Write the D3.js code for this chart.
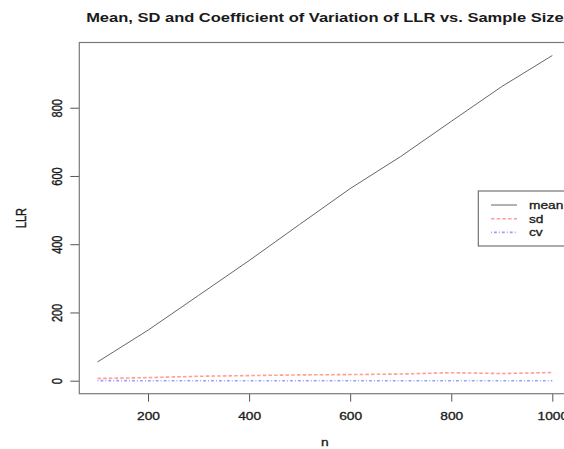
<!DOCTYPE html>
<html>
<head>
<meta charset="utf-8">
<script src="https://cdn.jsdelivr.net/npm/d3@7"></script>
<style>
  body { margin: 0; background: #fff; }
  text { font-family: "Liberation Sans", Arial, sans-serif; fill: #1a1a1a; }
  .thin { stroke: #1a1a1a; stroke-width: 0.3; }
</style>
</head>
<body>
<div class="chart"></div>
<script>
// Data
var sampleSize = [100, 200, 300, 400, 500, 600, 700, 800, 900, 1000];
var meanLLR = [55, 148, 250, 352, 458, 563, 657, 760, 862, 953];
var sdLLR = [6.5, 9, 13, 15, 17, 18, 19.5, 23.5, 21, 24];
var cvLLR = [0.118, 0.061, 0.052, 0.043, 0.037, 0.032, 0.030, 0.031, 0.024, 0.025];
var xTicks = [200, 400, 600, 800, 1000];
var yTicks = [0, 200, 400, 600, 800];
var legendNames = ["mean", "sd", "cv"];

var svgWidth = 564;
var svgHeight = 449;

// the reference image is stretched sideways, so text is too
var stretchX = 1.25;

var plot = { left: 79.3, right: 570.5, top: 42.5, bottom: 393.7 };

var svg = d3.select(".chart")
  .append("svg")
  .attr("width", svgWidth)
  .attr("height", svgHeight);

// R style 4% padding on both axes
var xExt = d3.extent(sampleSize);
var xPad = (xExt[1] - xExt[0]) * 0.04;
var xScale = d3.scaleLinear()
  .domain([xExt[0] - xPad, xExt[1] + xPad])
  .range([plot.left, plot.right]);

var yExt = d3.extent(meanLLR.concat(sdLLR, cvLLR));
var yPad = (yExt[1] - yExt[0]) * 0.04;
var yScale = d3.scaleLinear()
  .domain([yExt[0] - yPad, yExt[1] + yPad])
  .range([plot.bottom, plot.top]);

function placeText(sel, x, y, rot) {
  sel.attr("x", 0).attr("y", 0).attr("dy", null)
    .attr("transform", "translate(" + x + "," + y + ") scale(" + stretchX + ",1)" + (rot ? " rotate(" + rot + ")" : ""));
}

// axes
var bottomAxis = d3.axisBottom(xScale).tickValues(xTicks).tickSize(8).tickFormat(d3.format("d"));
var xAxisG = svg.append("g")
  .attr("transform", "translate(0," + plot.bottom + ")")
  .call(bottomAxis);
xAxisG.select(".domain").remove();
xAxisG.selectAll("line").attr("stroke", "#555");
xAxisG.selectAll("text")
  .attr("class", "thin")
  .attr("font-size", 11)
  .attr("font-family", null)
  .attr("fill", "#1a1a1a")
  .each(function() { placeText(d3.select(this), 0, 26.3); });

var leftAxis = d3.axisLeft(yScale).tickValues(yTicks).tickSize(9).tickFormat(d3.format("d"));
var yAxisG = svg.append("g")
  .attr("transform", "translate(" + plot.left + ",0)")
  .call(leftAxis);
yAxisG.select(".domain").remove();
yAxisG.selectAll("line").attr("stroke", "#555");
yAxisG.selectAll("text")
  .attr("class", "thin")
  .attr("font-size", 11)
  .attr("font-family", null)
  .attr("fill", "#1a1a1a")
  .attr("text-anchor", "middle")
  .each(function() { placeText(d3.select(this), -17.8, 0, -90); });

// plot box
svg.append("rect")
  .attr("x", plot.left)
  .attr("y", plot.top)
  .attr("width", plot.right - plot.left)
  .attr("height", plot.bottom - plot.top)
  .attr("fill", "none")
  .attr("stroke", "#7a7a7a")
  .attr("stroke-width", 1.2);

// series
var styles = [
  { values: meanLLR, color: "#666", width: 1, dash: null },
  { values: sdLLR, color: "#ff9c9c", width: 1.6, dash: "3.5,2.2" },
  { values: cvLLR, color: "#9c9cff", width: 1.6, dash: "0.9,2.1,2.8,2.1" }
];

styles.forEach(function(s) {
  var line = d3.line()
    .x(function(d, i) { return xScale(sampleSize[i]); })
    .y(function(d) { return yScale(d); });
  svg.append("path")
    .datum(s.values)
    .attr("d", line)
    .attr("fill", "none")
    .attr("stroke", s.color)
    .attr("stroke-width", s.width)
    .attr("stroke-dasharray", s.dash);
});

// title and axis labels
svg.append("text")
  .attr("text-anchor", "middle")
  .attr("font-size", 13.2)
  .attr("font-weight", "bold")
  .text("Mean, SD and Coefficient of Variation of LLR vs. Sample Size")
  .call(placeText, (plot.left + plot.right) / 2, 22);

svg.append("text")
  .attr("class", "thin")
  .attr("text-anchor", "middle")
  .attr("font-size", 11)
  .text("n")
  .call(placeText, (plot.left + plot.right) / 2, 446);

svg.append("text")
  .attr("class", "thin")
  .attr("text-anchor", "middle")
  .attr("font-size", 11)
  .text("LLR")
  .call(placeText, 26, (plot.top + plot.bottom) / 2, -90);

// legend
var legendG = svg.append("g");
legendG.append("rect")
  .attr("x", 478.3)
  .attr("y", 191)
  .attr("width", plot.right - 478.3)
  .attr("height", 55)
  .attr("fill", "#fff")
  .attr("stroke", "#666")
  .attr("stroke-width", 1.1);

legendNames.forEach(function(name, i) {
  var ly = 205 + i * 13.7;
  legendG.append("line")
    .attr("x1", 491).attr("x2", 517)
    .attr("y1", ly).attr("y2", ly)
    .attr("stroke", styles[i].color)
    .attr("stroke-width", styles[i].width)
    .attr("stroke-dasharray", styles[i].dash);
  legendG.append("text")
    .attr("class", "thin")
    .attr("font-size", 11)
    .text(name)
    .call(placeText, 529, ly + 4);
});
</script>
</body>
</html>
